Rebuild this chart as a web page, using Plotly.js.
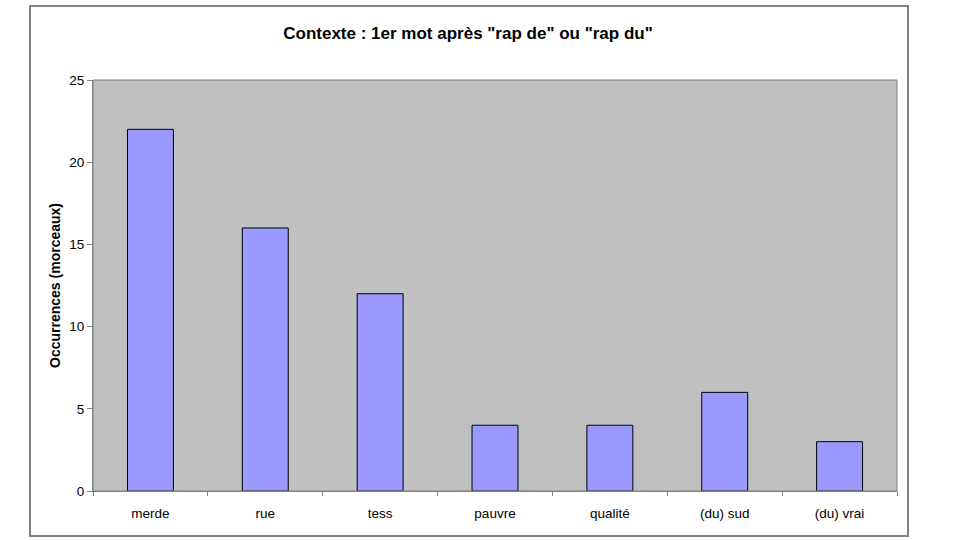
<!DOCTYPE html>
<html><head><meta charset="utf-8">
<script src="https://cdn.plot.ly/plotly-3.0.1.min.js"></script>
<style>html,body{margin:0;padding:0;background:#fff;}#frame{position:absolute;left:29px;top:5px;width:876px;height:528px;border:2px solid #808080;pointer-events:none;z-index:5;}#chart{position:absolute;left:0;top:0;width:960px;height:540px;}</style>
</head><body>
<div id="chart"></div><div id="frame"></div>
<script>
const categories = ["merde", "rue", "tess", "pauvre", "qualité", "(du) sud", "(du) vrai"];
const occurrences = [22, 16, 12, 4, 4, 6, 3];
const yTicks = [0, 5, 10, 15, 20, 25];

const trace = {
  type: 'bar', x: categories, y: occurrences,
  marker: {color: '#9999FF', line: {color: '#000000', width: 1}},
  hoverinfo: 'none'
};
const layout = {
  width: 960, height: 540,
  margin: {l: 93, r: 63, t: 80, b: 49},
  paper_bgcolor: '#ffffff', plot_bgcolor: '#C0C0C0',
  bargap: 0.6,
  showlegend: false,
  font: {family: 'Liberation Sans, Arial, sans-serif', size: 13.5, color: '#000'},
  title: {text: 'Contexte : 1er mot après "rap de" ou "rap du"', font: {size: 17, color: '#000', family: 'Liberation Sans, Arial, sans-serif', weight: 'bold'}, x: 0.4875, xref: 'container', xanchor: 'center', y: 1 - 33/540, yref: 'container', yanchor: 'middle'},
  xaxis: {type: 'category', showgrid: false, showline: true, linecolor: '#808080', linewidth: 1, mirror: false,
    ticks: 'outside', tickson: 'boundaries', ticklen: 4, tickcolor: '#808080', tickfont: {size: 13.5}, ticklabelstandoff: 10, automargin: false},
  yaxis: {range: [0, 25], tickvals: yTicks, showgrid: false, zeroline: false, showline: true, linecolor: '#808080', linewidth: 1,
    ticks: 'outside', ticklen: 5, tickcolor: '#808080', tickfont: {size: 13.5}, automargin: false,
    title: {text: 'Occurrences (morceaux)', font: {size: 14, weight: 'bold'}, standoff: 5}},
  shapes: [{type: 'rect', xref: 'paper', yref: 'paper', x0: 0, x1: 1, y0: 0, y1: 1, line: {color: '#808080', width: 1}, fillcolor: 'rgba(0,0,0,0)'}]
};
Plotly.newPlot('chart', [trace], layout, {staticPlot: true, displayModeBar: false});
</script>
</body></html>
